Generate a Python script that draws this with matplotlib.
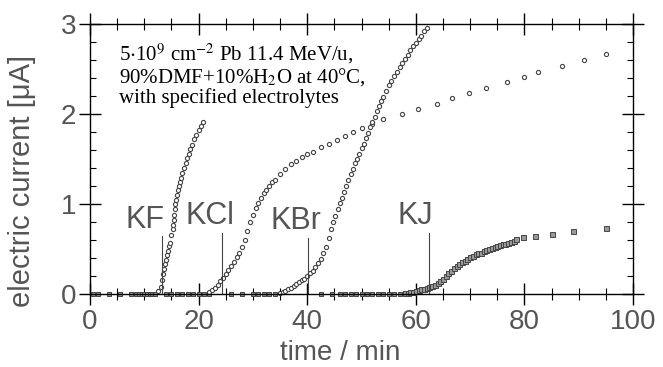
import matplotlib
matplotlib.use("Agg")
import matplotlib.pyplot as plt
from matplotlib.ticker import MultipleLocator

plt.rcParams['font.family'] = ['Liberation Sans', 'DejaVu Sans']
plt.rcParams['mathtext.fontset'] = 'stix'

# baseline points (no current yet)
t_base = [0.5, 1.5, 3.5, 5.5, 7.5, 8.5, 9, 9.5, 10, 10.5, 11, 11.5, 12,
          14, 15, 16, 17, 18, 19, 20, 21, 22, 26, 28, 30, 31, 32, 33, 34,
          42.5, 44.5, 46, 47, 48, 49, 50, 51, 52, 53, 54, 55, 56, 57]
i_base = [0.0] * len(t_base)

t_kf = [12.5, 13, 13.2, 13.4, 13.6, 13.8, 14.0, 14.2, 14.4, 14.6, 14.8, 15.0, 15.2,
        15.3, 15.4, 15.5, 15.6, 15.7, 15.8, 16.0, 16.2, 16.4, 16.6, 16.8, 17.0, 17.3,
        17.6, 17.9, 18.2, 18.5, 18.8, 19.2, 19.6, 20.0, 20.4, 20.8]
i_kf = [0.03, 0.08, 0.15, 0.22, 0.28, 0.33, 0.38, 0.43, 0.48, 0.53, 0.57, 0.66, 0.72,
        0.77, 0.82, 0.88, 0.94, 1.0, 1.04, 1.1, 1.15, 1.2, 1.24, 1.29, 1.34, 1.4,
        1.45, 1.51, 1.56, 1.61, 1.66, 1.72, 1.77, 1.82, 1.87, 1.91]

t_kcl = [22, 22.5, 23, 23.5, 24, 24.5, 25, 25.5, 26, 26.5, 27, 27.5, 28,
         28.5, 29, 29.5, 30, 30.5, 31, 31.5, 32, 32.5, 33, 33.5, 34, 35, 36, 37, 38,
         39, 40, 41, 42.5, 44, 45.5, 47, 48.5, 50, 52, 54, 57.5, 60.4, 63.9, 66.7,
         69.8, 72.9, 76.8, 79.9, 82.5, 86.9, 91, 95]
i_kcl = [0.02, 0.04, 0.07, 0.1, 0.14, 0.18, 0.22, 0.27, 0.31, 0.36, 0.41, 0.46, 0.52,
         0.6, 0.7, 0.8, 0.88, 0.95, 1.01, 1.07, 1.12, 1.16, 1.2, 1.24, 1.27, 1.33, 1.39,
         1.44, 1.48, 1.52, 1.55, 1.58, 1.63, 1.67, 1.71, 1.76, 1.8, 1.84, 1.89, 1.94,
         2.0, 2.06, 2.11, 2.18, 2.23, 2.29, 2.36, 2.41, 2.47, 2.53, 2.6, 2.67]

t_kbr = [35, 35.5, 36, 36.5, 37, 37.5, 38, 38.5, 39, 39.5, 40, 40.5, 41, 41.5, 42,
         42.5, 43, 43.5, 44, 44.4, 44.8, 45.2, 45.6, 46, 46.4, 46.8, 47.2, 47.6, 48,
         48.4, 48.8, 49.2, 49.6, 50, 50.4, 50.8, 51.2, 51.6, 52, 52.4, 52.8, 53.2, 53.6,
         54, 54.5, 55, 55.5, 56, 56.5, 57, 57.5, 58, 58.5, 59, 59.5, 60, 60.5, 61, 61.5, 62]
i_kbr = [0.01, 0.02, 0.03, 0.05, 0.07, 0.09, 0.11, 0.13, 0.15, 0.17, 0.2, 0.23, 0.26,
         0.3, 0.34, 0.39, 0.45, 0.52, 0.62, 0.72, 0.8, 0.87, 0.94, 1.01, 1.07, 1.13,
         1.2, 1.27, 1.33, 1.39, 1.45, 1.5, 1.56, 1.62, 1.67, 1.73, 1.79, 1.85, 1.91,
         1.97, 2.03, 2.09, 2.14, 2.19, 2.26, 2.32, 2.37, 2.42, 2.47, 2.52, 2.57, 2.61,
         2.66, 2.71, 2.75, 2.79, 2.83, 2.87, 2.92, 2.96]

t_kj = [58, 58.5, 59, 59.5, 60, 60.5, 61, 61.5, 62, 62.5, 63, 63.5, 64, 64.5, 65, 65.5,
        66, 66.5, 67, 67.5, 68, 68.5, 69, 69.5, 70, 70.5, 71, 71.5, 72, 72.5, 73, 73.5,
        74, 74.5, 75, 75.5, 76, 76.5, 77, 77.5, 78, 78.5, 79.8, 82, 85, 89, 95]
i_kj = [0.01, 0.01, 0.02, 0.02, 0.03, 0.04, 0.05, 0.06, 0.07, 0.08, 0.09, 0.1, 0.12,
        0.14, 0.17, 0.2, 0.23, 0.26, 0.29, 0.31, 0.33, 0.35, 0.37, 0.39, 0.41, 0.42,
        0.44, 0.45, 0.46, 0.48, 0.49, 0.5, 0.51, 0.52, 0.53, 0.54, 0.55, 0.56, 0.57,
        0.58, 0.59, 0.61, 0.63, 0.64, 0.67, 0.7, 0.73]

labels = ["KF", "KCl", "KBr", "KJ"]
label_x = [13.3, 24.3, 40.1, 62.4]
label_top = [0.64, 0.68, 0.62, 0.68]
label_text_x = [10.1, 22.1, 37.9, 60.0]

fig = plt.figure(figsize=(6.63, 3.67), dpi=100)
ax = fig.add_axes([0.1357, 0.199, 0.8191, 0.7356])

gray = '#444444'
ax.plot(t_base, i_base, 's', ms=3.2, mfc='#999999', mec=gray, mew=0.7, clip_on=False)
for t, c in [(t_kf, i_kf), (t_kcl, i_kcl), (t_kbr, i_kbr)]:
    ax.plot(t, c, 'o', ms=3.0, mfc='white', mec=gray, mew=0.8, clip_on=False)
ax.plot(t_kj, i_kj, 's', ms=3.6, mfc='#999999', mec=gray, mew=0.7, clip_on=False)

for lab, x, top, tx in zip(labels, label_x, label_top, label_text_x):
    ax.plot([x, x], [0, top], color=gray, lw=0.8)
    ax.text(tx, top + 0.02, lab, fontsize=22, color='#555555', ha='center', va='bottom')

ax.text(5.3, 2.8,
        "5$\\cdot$10$^9$ cm$^{-2}$ Pb 11.4 MeV/u,\n90%DMF+10%H$_2$O at 40°C,\nwith specified electrolytes",
        fontsize=15, family='Liberation Serif', va='top', ha='left', linespacing=1.0)

ax.set_xlim(0, 100)
ax.set_ylim(0, 3)
ax.xaxis.set_major_locator(MultipleLocator(20))
ax.xaxis.set_minor_locator(MultipleLocator(5))
ax.yaxis.set_major_locator(MultipleLocator(1))
ax.yaxis.set_minor_locator(MultipleLocator(0.2))
ax.tick_params(axis='x', which='major', direction='inout', length=16, width=1.0,
               top=True, labelsize=20, labelcolor='#555555', pad=3)
ax.tick_params(axis='x', which='minor', direction='inout', length=9, width=0.8, top=True)
ax.tick_params(axis='y', which='major', direction='inout', length=16, width=1.0,
               right=True, labelsize=20, labelcolor='#555555', pad=2)
ax.tick_params(axis='y', which='minor', direction='in', length=4, width=0.8, right=True)
for s in ax.spines.values():
    s.set_linewidth(1.0)

ax.set_xlabel("time / min", fontsize=20, color='#555555')
ax.set_ylabel("electric current [\u03bcA]", fontsize=21, color='#555555')
ax.xaxis.set_label_coords(0.46, -0.17)
ax.yaxis.set_label_coords(-0.1, 0.42)

fig.savefig("out.png", dpi=100)
